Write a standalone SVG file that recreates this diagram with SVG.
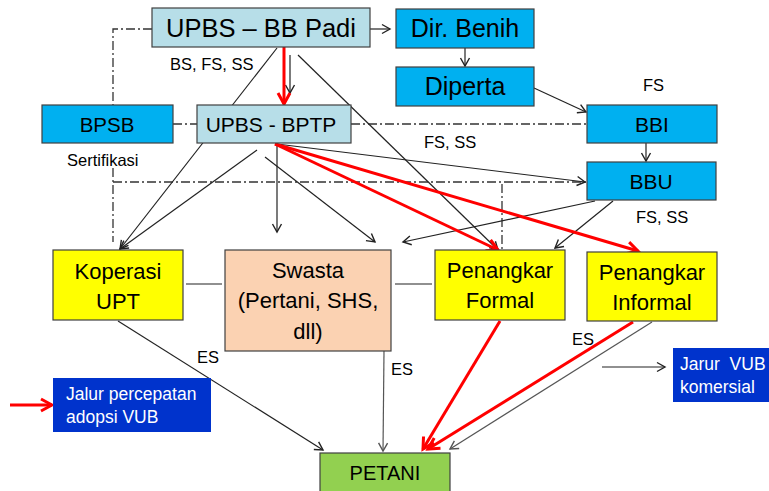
<svg xmlns="http://www.w3.org/2000/svg" width="769" height="491" viewBox="0 0 769 491">
<style>
text{font-family:"Liberation Sans",Arial,sans-serif;fill:#000}
.box{stroke:#404040;stroke-width:1.2}
.lb{fill:#B7DEE8}
.bl{fill:#00B0F0}
.ye{fill:#FFFF00}
.pe{fill:#FBD2B2}
.gr{fill:#92D050}
.db{fill:#0033CC;stroke:none}
.c{stroke:#222;stroke-width:1.2;fill:none}
.g{stroke:#555;stroke-width:1.2;fill:none}
.r{stroke:#FF0000;stroke-width:3;fill:none}
.dd{stroke:#333;stroke-width:1.3;fill:none;stroke-dasharray:9 3 2 3}
.lab{font-size:16.5px}
.w{fill:#fff;font-size:17.5px}
</style>
<defs>
<marker id="ab" markerWidth="12" markerHeight="12" refX="10" refY="6" orient="auto" markerUnits="userSpaceOnUse">
<path d="M2,1.5 L10,6 L2,10.5" fill="none" stroke="#222" stroke-width="1.4"/>
</marker>
<marker id="ag" markerWidth="12" markerHeight="12" refX="10" refY="6" orient="auto" markerUnits="userSpaceOnUse">
<path d="M2,1.5 L10,6 L2,10.5" fill="none" stroke="#555" stroke-width="1.4"/>
</marker>
<marker id="ar" markerWidth="16" markerHeight="16" refX="13" refY="8" orient="auto" markerUnits="userSpaceOnUse">
<path d="M2,2 L13,8 L2,14" fill="none" stroke="#FF0000" stroke-width="3"/>
</marker>
</defs>

<g id="connectors">
<path class="dd" d="M152,29 H113 V105"/>
<line class="dd" x1="173" y1="124" x2="197" y2="124"/>
<line class="dd" x1="351" y1="124" x2="587" y2="124"/>
<line class="dd" x1="113" y1="168" x2="113" y2="242"/>
<line class="dd" x1="113" y1="182" x2="586" y2="182"/>
<line class="dd" x1="502" y1="184" x2="502" y2="250"/>
<line class="c" x1="370" y1="29" x2="390" y2="29" marker-end="url(#ab)"/>
<line class="c" x1="465" y1="48" x2="465" y2="66" marker-end="url(#ab)"/>
<line class="c" x1="534" y1="88" x2="586" y2="112" marker-end="url(#ab)"/>
<line class="c" x1="646" y1="143" x2="646" y2="161" marker-end="url(#ab)"/>
<line class="c" x1="290" y1="55" x2="290" y2="93" marker-end="url(#ab)"/>
<line class="c" x1="277" y1="48" x2="120" y2="249" marker-end="url(#ab)"/>
<line class="c" x1="298" y1="55" x2="498" y2="250" marker-end="url(#ab)"/>
<line class="c" x1="257" y1="150" x2="120" y2="249" marker-end="url(#ab)"/>
<line class="c" x1="277" y1="143" x2="277" y2="232" marker-end="url(#ab)"/>
<line class="c" x1="265" y1="157" x2="375" y2="242" marker-end="url(#ab)"/>
<line class="c" x1="277" y1="144" x2="585" y2="182" marker-end="url(#ab)"/>
<line class="c" x1="595" y1="201" x2="403" y2="242" marker-end="url(#ab)"/>
<line class="c" x1="613" y1="201" x2="555" y2="248" marker-end="url(#ab)"/>
<line class="c" x1="186" y1="284" x2="222" y2="284"/>
<line class="c" x1="395" y1="284" x2="432" y2="284"/>
<line class="c" x1="118" y1="321" x2="323" y2="450" marker-end="url(#ab)"/>
<line class="g" x1="384" y1="351" x2="383" y2="451" marker-end="url(#ag)"/>
<line class="g" x1="652" y1="322" x2="450" y2="449" marker-end="url(#ag)"/>
<line class="c" x1="602" y1="367" x2="665" y2="367" marker-end="url(#ab)"/>
<line class="r" x1="284" y1="47" x2="284" y2="104" marker-end="url(#ar)"/>
<line class="r" x1="275" y1="144" x2="498" y2="250" marker-end="url(#ar)"/>
<line class="r" x1="275" y1="144" x2="638" y2="251" marker-end="url(#ar)"/>
<line class="r" x1="500" y1="321" x2="423" y2="449" marker-end="url(#ar)"/>
<line class="r" x1="633" y1="322" x2="428" y2="449" marker-end="url(#ar)"/>
<line class="r" x1="10" y1="405" x2="52" y2="405" marker-end="url(#ar)"/>
</g>

<g id="upbs-bbpadi"><rect class="box lb" x="152" y="8" width="218" height="39"/><text x="261" y="37" font-size="25.5" text-anchor="middle">UPBS – BB Padi</text></g>
<g id="dir-benih"><rect class="box bl" x="396" y="9" width="138" height="39"/><text x="465" y="37" font-size="25" text-anchor="middle">Dir. Benih</text></g>
<g id="diperta"><rect class="box bl" x="396" y="67" width="138" height="39"/><text x="465" y="95" font-size="25" text-anchor="middle">Diperta</text></g>
<g id="bbi"><rect class="box bl" x="587" y="105" width="130" height="38"/><text x="652" y="132" font-size="21" text-anchor="middle">BBI</text></g>
<g id="bbu"><rect class="box bl" x="587" y="162" width="129" height="38"/><text x="651" y="189" font-size="21" text-anchor="middle">BBU</text></g>
<g id="bpsb"><rect class="box bl" x="42" y="105" width="131" height="38"/><text x="107" y="132" font-size="20.5" text-anchor="middle">BPSB</text></g>
<g id="upbs-bptp"><rect class="box lb" x="197" y="105" width="154" height="38"/><text x="271" y="132" font-size="21" text-anchor="middle">UPBS - BPTP</text></g>
<g id="koperasi"><rect class="box ye" x="53" y="250" width="130" height="70"/><text x="118" y="279" font-size="22" text-anchor="middle">Koperasi</text><text x="118" y="309" font-size="22" text-anchor="middle">UPT</text></g>
<g id="swasta"><rect class="box pe" x="225" y="250" width="166" height="101"/><text x="308" y="278" font-size="22" text-anchor="middle">Swasta</text><text x="308" y="308" font-size="22" text-anchor="middle">(Pertani, SHS,</text><text x="308" y="339" font-size="22" text-anchor="middle">dll)</text></g>
<g id="penangkar-formal"><rect class="box ye" x="435" y="250" width="130" height="70"/><text x="500" y="278" font-size="22" text-anchor="middle">Penangkar</text><text x="500" y="308" font-size="22" text-anchor="middle">Formal</text></g>
<g id="penangkar-informal"><rect class="box ye" x="587" y="252" width="130" height="69"/><text x="652" y="280" font-size="22" text-anchor="middle">Penangkar</text><text x="652" y="310" font-size="22" text-anchor="middle">Informal</text></g>
<g id="petani"><rect class="box gr" x="320" y="453" width="130" height="42"/><text x="385" y="480" font-size="20" text-anchor="middle">PETANI</text></g>
<g id="legend-jalur"><rect class="db" x="53" y="378" width="158" height="54"/><text class="w" x="66" y="400">Jalur percepatan</text><text class="w" x="66" y="423">adopsi VUB</text></g>
<g id="legend-jarur"><rect class="db" x="673" y="348" width="96" height="54"/><text class="w" x="680" y="370" xml:space="preserve">Jarur  VUB</text><text class="w" x="680" y="393">komersial</text></g>

<g id="labels">
<text class="lab" x="170" y="70">BS, FS, SS</text>
<text class="lab" x="643" y="91">FS</text>
<text class="lab" x="424" y="148">FS, SS</text>
<text class="lab" x="636" y="223">FS, SS</text>
<text class="lab" x="67" y="166">Sertifikasi</text>
<text class="lab" x="197" y="363">ES</text>
<text class="lab" x="391" y="375">ES</text>
<text class="lab" x="572" y="345">ES</text>
</g>
</svg>
